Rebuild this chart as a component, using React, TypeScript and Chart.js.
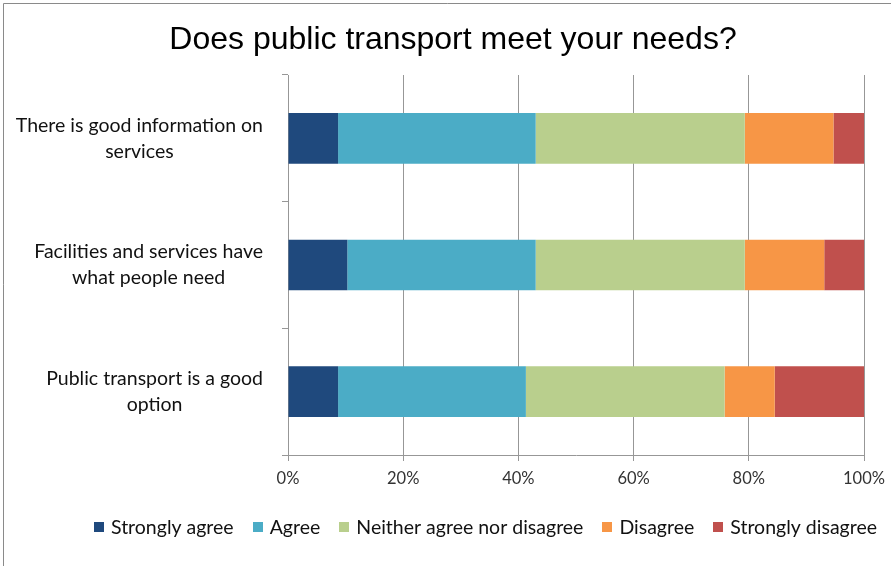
import React, { useEffect, useRef } from 'react';
import { Chart, registerables } from 'chart.js';

Chart.register(...registerables);

const chartTitle = 'Does public transport meet your needs?';
const categories: string[][] = [
  ['There is good information on', 'services'],
  ['Facilities and services have', 'what people need'],
  ['Public transport is a good', 'option'],
];
const seriesNames = ['Strongly agree', 'Agree', 'Neither agree nor disagree', 'Disagree', 'Strongly disagree'];
const seriesColors = ['#1F497D', '#4BACC6', '#B9CF8D', '#F79646', '#C0504D'];
const stronglyAgree = [8.7, 10.3, 8.7];
const agree = [34.3, 32.7, 32.6];
const neither = [36.3, 36.3, 34.5];
const disagree = [15.4, 13.8, 8.7];
const stronglyDisagree = [5.3, 6.9, 15.5];
const xTickValues = [0, 20, 40, 60, 80, 100];

const LABEL_FONT = 'Lato';
const LABEL_SIZE = 19.5;

const framePlugin = {
  id: 'frame',
  beforeDraw(chart: any) {
    const { ctx, width, height } = chart;
    ctx.save();
    ctx.fillStyle = '#ffffff';
    ctx.fillRect(0, 0, width, height);
    ctx.restore();
  },
  afterDraw(chart: any) {
    const { ctx, width, height } = chart;
    ctx.save();
    ctx.strokeStyle = '#8a8a8a';
    ctx.lineWidth = 1;
    ctx.beginPath();
    ctx.moveTo(3.5, height);
    ctx.lineTo(3.5, 3.5);
    ctx.lineTo(width, 3.5);
    ctx.stroke();
    ctx.restore();
  },
};

const titlePlugin = {
  id: 'customTitle',
  afterDraw(chart: any) {
    const { ctx } = chart;
    ctx.save();
    ctx.font = '32px "Liberation Sans", Arial, sans-serif';
    ctx.fillStyle = '#000000';
    ctx.textAlign = 'center';
    ctx.textBaseline = 'alphabetic';
    ctx.fillText(chartTitle, 453, 49);
    ctx.restore();
  },
};

const yLabelPlugin = {
  id: 'yLabels',
  afterDraw(chart: any) {
    const { ctx } = chart;
    const scale = chart.scales.y;
    const labels = chart.data.labels as string[][];
    ctx.save();
    ctx.font = `${LABEL_SIZE}px ${LABEL_FONT}`;
    ctx.fillStyle = '#111111';
    ctx.textAlign = 'center';
    ctx.textBaseline = 'middle';
    const lineH = 26;
    labels.forEach((lines, i) => {
      const y = scale.getPixelForValue(i);
      const w = Math.max(...lines.map((l) => ctx.measureText(l).width));
      const cx = scale.right - 25 - w / 2;
      lines.forEach((l, j) => {
        ctx.fillText(l, cx, y + (j - (lines.length - 1) / 2) * lineH);
      });
    });
    ctx.restore();
  },
};

const legendPlugin = {
  id: 'customLegend',
  afterDraw(chart: any) {
    const { ctx } = chart;
    const datasets = chart.data.datasets;
    ctx.save();
    ctx.font = `${LABEL_SIZE}px ${LABEL_FONT}`;
    ctx.textBaseline = 'middle';
    ctx.textAlign = 'left';
    const box = 10;
    const gapBoxText = 7;
    const gapItems = 19;
    const widths = datasets.map((d: any) => box + gapBoxText + ctx.measureText(d.label).width);
    const total = widths.reduce((a: number, b: number) => a + b, 0) + gapItems * (datasets.length - 1);
    let x = 485.5 - total / 2;
    const y = 527;
    datasets.forEach((d: any, i: number) => {
      ctx.fillStyle = d.backgroundColor;
      ctx.fillRect(Math.round(x), Math.round(y - box / 2), box, box);
      ctx.fillStyle = '#111111';
      ctx.fillText(d.label, x + box + gapBoxText, y + 1);
      x += widths[i] + gapItems;
    });
    ctx.restore();
  },
};

export default function App() {
  const canvasRef = useRef<HTMLCanvasElement | null>(null);

  useEffect(() => {
    if (!canvasRef.current) return;
    const values = [stronglyAgree, agree, neither, disagree, stronglyDisagree];
    const chart = new Chart(canvasRef.current, {
      type: 'bar',
      data: {
        labels: categories,
        datasets: seriesNames.map((name, i) => ({
          label: name,
          data: values[i],
          backgroundColor: seriesColors[i],
          borderWidth: 0,
          categoryPercentage: 0.8,
          barPercentage: 0.5,
        })),
      },
      options: {
        indexAxis: 'y',
        responsive: false,
        animation: false,
        devicePixelRatio: 1,
        layout: { padding: { top: 75, left: 0, right: 27, bottom: 71 } },
        plugins: {
          legend: { display: false },
          title: { display: false },
          tooltip: { enabled: false },
        },
        scales: {
          x: {
            stacked: true,
            min: 0,
            max: 100,
            afterBuildTicks: (scale: any) => {
              scale.ticks = xTickValues.map((v) => ({ value: v }));
            },
            afterFit: (scale: any) => {
              scale.height = 40;
              scale.paddingLeft = 0;
              scale.paddingRight = 0;
            },
            ticks: {
              callback: (v: any) => `${v}%`,
              font: { family: LABEL_FONT, size: 16.5 },
              color: '#333333',
              padding: 8,
              maxRotation: 0,
            },
            grid: {
              color: '#979797',
              lineWidth: 1,
              drawTicks: true,
              tickLength: 6,
              tickColor: '#979797',
            },
            border: { color: '#979797', width: 1 },
          },
          y: {
            stacked: true,
            ticks: { display: false },
            afterFit: (scale: any) => {
              scale.width = 288;
            },
            grid: {
              offset: true,
              drawOnChartArea: false,
              drawTicks: true,
              tickLength: 6,
              color: '#979797',
              tickColor: '#979797',
            },
            border: { color: '#979797', width: 1 },
          },
        },
      },
      plugins: [framePlugin, titlePlugin, yLabelPlugin, legendPlugin],
    } as any);
    return () => chart.destroy();
  }, []);

  return (
    <div style={{ position: 'absolute', left: 0, top: 0, width: 891, height: 566 }}>
      <canvas ref={canvasRef} width={891} height={566} style={{ width: 891, height: 566, display: 'block' }} />
    </div>
  );
}
